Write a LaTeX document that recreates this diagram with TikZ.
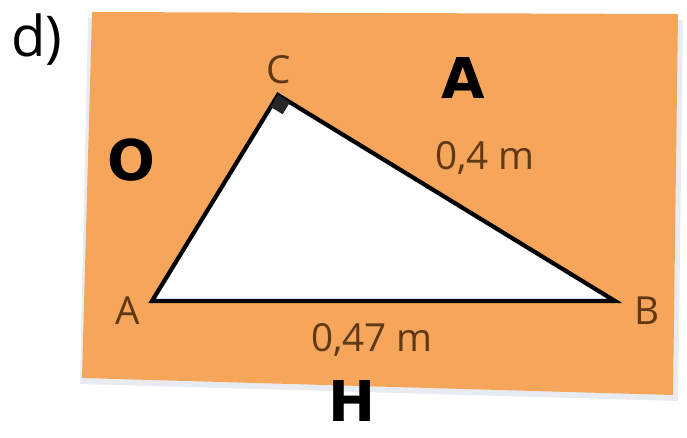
\documentclass[tikz,border=0pt]{standalone}
\usepackage{fontspec}
\setmainfont{Open Sans}
\newfontfamily\handfont{DejaVu Sans}
\usetikzlibrary{calc,positioning}
\definecolor{CardOrange}{RGB}{245,166,91}
\definecolor{LabelBrown}{RGB}{96,56,20}
\definecolor{ShadeGray}{RGB}{232,236,240}
\begin{document}
\begin{tikzpicture}[x=0.03cm,y=-0.03cm,
        vlabel/.style={text=LabelBrown,font=\fontsize{33}{38}\selectfont,inner sep=0pt},
        hand/.style={font=\handfont\bfseries\fontsize{48}{54}\selectfont,inner sep=0pt},
        side/.style={draw=black,line width=3.6pt,line join=miter,fill=white}
      ]
        \useasboundingbox (0,0) rectangle (687,437);
        % card with a soft shadow
        \fill[ShadeGray] (88,18) -- (683,20) -- (678,401) -- (80,384) -- cycle;
        \fill[CardOrange] (92,12) -- (678,14) -- (673,395) -- (82,378) -- cycle;
        \node[font=\fontsize{48}{52}\selectfont,inner sep=0pt] (tag) at (37,40) {d)};
        % triangle
        \coordinate (A) at (152,301);
        \coordinate (B) at (615,301);
        \coordinate (C) at (278,95);
        \draw[side] (A) -- (B) -- (C) -- cycle;
        \coordinate (ca) at ($(C)!0.42cm!(A)$);
        \coordinate (cb) at ($(C)!0.42cm!(B)$);
        \fill[black!85] (C) -- (ca) -- ($(ca)+(cb)-(C)$) -- (cb) -- cycle;
        \node[vlabel] (lA) at (128,311) {A};
        \node[vlabel] (lB) at (647,311) {B};
        \node[vlabel] (lC) at (279,70) {C};
        \node[vlabel] (ab) at (372,340) {0,47 m};
        \node[vlabel] (bc) at (485,158) {0,4 m};
        % handwritten markers
        \node[hand] (opp) at (463,78) {A};
        \node[hand] (adj) at (131,160) {O};
        \node[hand] (hyp) at (352,401) {H};
      \end{tikzpicture}
\end{document}
